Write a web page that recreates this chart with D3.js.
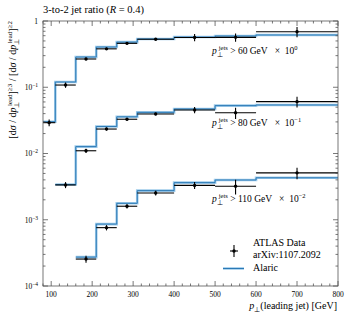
<!DOCTYPE html>
<html><head><meta charset="utf-8">
<script src="https://cdn.jsdelivr.net/npm/d3@7"></script>
<style>body{margin:0;background:#fff} svg{display:block} text{font-family:"Liberation Serif",serif;fill:#000;white-space:pre}</style>
</head><body><svg id="c" width="349" height="315"></svg>
<script>
// ---- data ----
const binEdges = [80,110,160,210,260,310,400,500,600,800];
const xTickLabels = [100,200,300,400,500,600,700,800];
const yTickExps = [0,-1,-2,-3,-4];
const seriesCuts = ["60","80","110"];
const seriesExp = [0,-1,-2];
const seriesFirstBin = [0,1,2];
// ATLAS data (unscaled) and errors
const data60  = [0.0292,0.108,0.267,0.38,0.46,0.53,0.565,0.567,0.69];
const err60   = [0.0035,0.010,0.012,0.015,0.018,0.02,0.07,0.08,0.12];
const data80  = [0.0335,0.110,0.234,0.329,0.395,0.454,0.412,0.606];
const err80   = [0.0035,0.008,0.012,0.015,0.018,0.05,0.08,0.11];
const data110 = [0.0255,0.076,0.160,0.253,0.330,0.320,0.51];
const err110  = [0.003,0.007,0.012,0.02,0.04,0.08,0.1];
// Alaric prediction (unscaled)
const alaric60  = [0.0302,0.12,0.286,0.405,0.48,0.535,0.572,0.594,0.615];
const alaric80  = [0.034,0.127,0.256,0.358,0.418,0.47,0.528,0.54];
const alaric110 = [0.0273,0.086,0.177,0.275,0.363,0.398,0.43];

const dataSets = [data60,data80,data110];
const errSets = [err60,err80,err110];
const alaricSets = [alaric60,alaric80,alaric110];

// ---- chart ----
const svg = d3.select("#c");
const L=43,R=338,T=21,B=286;
const x = d3.scaleLinear().domain([80,800]).range([L,R]);
const y = d3.scaleLog().domain([1e-4,1]).range([B,T]);
const blue="#2a79b5", band="#9fcbea";

const g = svg.append("g");

// Alaric step lines
alaricSets.forEach((vals,si)=>{
  const f = Math.pow(10,seriesExp[si]);
  const fb = seriesFirstBin[si];
  const pts = vals.map((v,i)=>[binEdges[fb+i], v*f]);
  pts.push([binEdges[fb+vals.length], vals[vals.length-1]*f]);
  const line = d3.line().x(d=>x(d[0])).y(d=>y(d[1])).curve(d3.curveStepAfter);
  g.append("path").attr("d",line(pts)).attr("fill","none").attr("stroke",band).attr("stroke-width",2.6);
  g.append("path").attr("d",line(pts)).attr("fill","none").attr("stroke",blue).attr("stroke-width",1);
});

// data points
dataSets.forEach((vals,si)=>{
  const f = Math.pow(10,seriesExp[si]);
  const fb = seriesFirstBin[si];
  vals.forEach((v,i)=>{
    const x0=binEdges[fb+i], x1=binEdges[fb+i+1];
    const e = errSets[si][i];
    const cx = x((x0+x1)/2);
    g.append("line").attr("x1",x(x0)).attr("x2",x(x1)).attr("y1",y(v*f)).attr("y2",y(v*f)).attr("stroke","#000").attr("stroke-width",1.1);
    g.append("line").attr("x1",cx).attr("x2",cx).attr("y1",y((v-e)*f)).attr("y2",y((v+e)*f)).attr("stroke","#000").attr("stroke-width",1.1);
    g.append("circle").attr("cx",cx).attr("cy",y(v*f)).attr("r",1.7).attr("fill","#000");
  });
});

// axes frame & ticks
const ax = svg.append("g").attr("stroke","#555").attr("stroke-width",0.8);
ax.append("rect").attr("x",L).attr("y",T).attr("width",R-L).attr("height",B-T).attr("fill","none");
d3.range(80,801,20).forEach(v=>{
  const major = v%100===0;
  const len = major?5:2.5;
  ax.append("line").attr("x1",x(v)).attr("x2",x(v)).attr("y1",B).attr("y2",B-len);
  ax.append("line").attr("x1",x(v)).attr("x2",x(v)).attr("y1",T).attr("y2",T+len);
});
y.ticks().forEach(v=>{
  const lg = Math.log10(v);
  const major = Math.abs(lg-Math.round(lg))<1e-9;
  const len = major?5:2.5;
  ax.append("line").attr("x1",L).attr("x2",L+len).attr("y1",y(v)).attr("y2",y(v));
  ax.append("line").attr("x1",R).attr("x2",R-len).attr("y1",y(v)).attr("y2",y(v));
});

const fs = 10, ss = 7;
// x tick labels
xTickLabels.forEach(v=>{
  svg.append("text").attr("x",x(v)).attr("y",297).attr("text-anchor","middle").attr("font-size",7.5).text(v);
});
// y tick labels
yTickExps.forEach(e=>{
  const t = svg.append("text").attr("x",38).attr("y",y(Math.pow(10,e))+2.8).attr("text-anchor","end").attr("font-size",7.5);
  if(e===0){ t.text("1"); }
  else {
    t.append("tspan").text("10");
    t.append("tspan").attr("dy",-3).attr("font-size",5.5).text("\u2212"+Math.abs(e));
  }
});

// title
svg.append("text").attr("x",43).attr("y",13).attr("font-size",10.5).html('3-to-2 jet ratio (<tspan font-style="italic">R</tspan> = 0.4)');

// series labels
const labY = [54,126,202];
seriesCuts.forEach((c,si)=>{
  const t = svg.append("text").attr("x",212).attr("y",labY[si]).attr("font-size",9.5);
  t.append("tspan").attr("font-style","italic").text("p");
  t.append("tspan").attr("dy",2.5).attr("font-size",6.5).text("\u22A5");
  t.append("tspan").attr("dx",-4).attr("dy",-7).attr("font-size",6.5).text("jets");
  t.append("tspan").attr("dy",4.5).text(" > "+c+" GeV   \u00D7  10");
  t.append("tspan").attr("dy",-4).attr("font-size",6.5).text(seriesExp[si]===0?"0":"\u2212"+Math.abs(seriesExp[si]));
});

// legend
const lx=234, ly=251;
svg.append("line").attr("x1",lx-4).attr("x2",lx+4).attr("y1",ly).attr("y2",ly).attr("stroke","#000").attr("stroke-width",1.1);
svg.append("line").attr("x1",lx).attr("x2",lx).attr("y1",ly-6).attr("y2",ly+6).attr("stroke","#000").attr("stroke-width",1.1);
svg.append("circle").attr("cx",lx).attr("cy",ly).attr("r",1.7).attr("fill","#000");
svg.append("text").attr("x",253).attr("y",246).attr("font-size",fs).text("ATLAS Data");
svg.append("text").attr("x",253).attr("y",258).attr("font-size",fs).text("arXiv:1107.2092");
svg.append("line").attr("x1",223).attr("x2",244).attr("y1",268.5).attr("y2",268.5).attr("stroke",band).attr("stroke-width",2.6);
svg.append("line").attr("x1",223).attr("x2",244).attr("y1",268.5).attr("y2",268.5).attr("stroke",blue).attr("stroke-width",1);
svg.append("text").attr("x",253).attr("y",271).attr("font-size",fs).text("Alaric");

// x-axis label
const xl = svg.append("text").attr("x",337).attr("y",309).attr("text-anchor","end").attr("font-size",fs);
xl.append("tspan").attr("font-style","italic").text("p");
xl.append("tspan").attr("dy",2.5).attr("font-size",ss).text("\u22A5");
xl.append("tspan").attr("dy",-2.5).text("(leading jet) [GeV]");

// y-axis label (top-aligned)
const yl = svg.append("text").attr("transform","translate(16,21) rotate(-90)").attr("text-anchor","end").attr("font-size",fs);
function dsig(t){
  t.append("tspan").text("[d");
  t.append("tspan").attr("font-style","italic").text("\u03C3");
  t.append("tspan").text(" / d");
  t.append("tspan").attr("font-style","italic").text("p");
  t.append("tspan").attr("dy",2.5).attr("font-size",ss).text("\u22A5");
  t.append("tspan").attr("dx",-4.5).attr("dy",-7).attr("font-size",ss).text("lead");
  t.append("tspan").attr("dy",4.5).text("]");
}
dsig(yl);
yl.append("tspan").attr("dy",-4).attr("font-size",ss).text("\u22653");
yl.append("tspan").attr("dy",4).text(" / ");
dsig(yl);
yl.append("tspan").attr("dy",-4).attr("font-size",ss).text("\u22652");
</script></body></html>
